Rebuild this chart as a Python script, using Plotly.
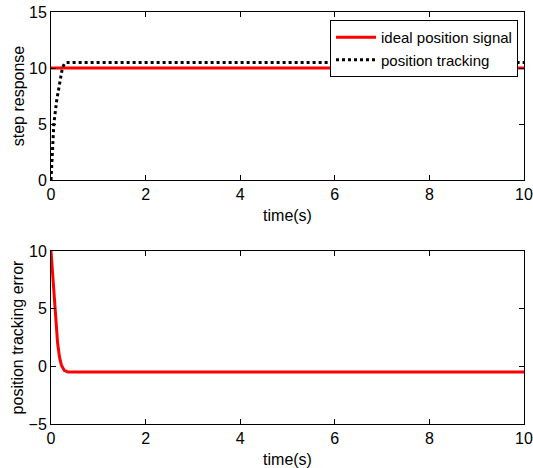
import plotly.graph_objects as go

W, H = 533, 468

# upper panel
t_top = [0, 0.06, 0.12, 0.18, 0.24, 0.28, 0.33, 1, 2, 4, 6, 8, 10]
ideal = [10] * len(t_top)
tracking = [0, 5.0, 7.1, 8.7, 10.0, 10.35, 10.5, 10.5, 10.5, 10.5, 10.5, 10.5, 10.5]

# lower panel
t_err = [0, 0.08, 0.14, 0.18, 0.22, 0.28, 0.36, 1, 2, 4, 6, 8, 10]
error = [10, 5.0, 2.0, 0.8, 0.1, -0.35, -0.5, -0.5, -0.5, -0.5, -0.5, -0.5, -0.5]

x_ticks = [0, 2, 4, 6, 8, 10]
y1_ticks = [0, 5, 10, 15]
y2_ticks = [-5, 0, 5, 10]

font = dict(family="Liberation Sans, Arial", size=16, color="black")

fig = go.Figure()
fig.add_trace(go.Scatter(x=t_top, y=ideal, mode="lines", name="ideal position signal",
                         line=dict(color="red", width=3), xaxis="x", yaxis="y"))
fig.add_trace(go.Scatter(x=t_top, y=tracking, mode="lines", name="position tracking",
                         line=dict(color="black", width=3, dash="dot"), xaxis="x", yaxis="y"))
fig.add_trace(go.Scatter(x=t_err, y=error, mode="lines", name="error", showlegend=False,
                         line=dict(color="red", width=3), xaxis="x2", yaxis="y2"))

def px_x(p):
    return p / W

def px_y(p):
    return 1 - p / H

axis_common = dict(showline=True, linecolor="black", linewidth=1, mirror="ticks",
                   ticks="inside", ticklen=5, tickcolor="black", showgrid=False,
                   zeroline=False, tickfont=font, automargin=False)

fig.update_layout(
    width=W, height=H, margin=dict(l=0, r=0, t=0, b=0),
    paper_bgcolor="white", plot_bgcolor="white", font=font,
    xaxis=dict(domain=[px_x(51), px_x(524)], range=[0, 10], tickvals=x_ticks,
               anchor="y", title=dict(text="time(s)", font=font, standoff=7), **axis_common),
    yaxis=dict(domain=[px_y(180), px_y(12)], range=[0, 15], tickvals=y1_ticks,
               anchor="x", title=dict(text="step response", font=font, standoff=0), **axis_common),
    xaxis2=dict(domain=[px_x(51), px_x(524)], range=[0, 10], tickvals=x_ticks,
                anchor="y2", title=dict(text="time(s)", font=font, standoff=7), **axis_common),
    yaxis2=dict(domain=[px_y(424), px_y(251)], range=[-5, 10], tickvals=y2_ticks,
                anchor="x2", title=dict(text="position tracking error", font=font, standoff=0), **axis_common),
    legend=dict(x=px_x(518), y=px_y(20), xanchor="right", yanchor="top",
                bgcolor="white", bordercolor="black", borderwidth=1,
                font=dict(family="Liberation Sans, Arial", size=15, color="black"),
                tracegroupgap=0, itemwidth=40),
    showlegend=True,
)

fig.write_html("out.html")
